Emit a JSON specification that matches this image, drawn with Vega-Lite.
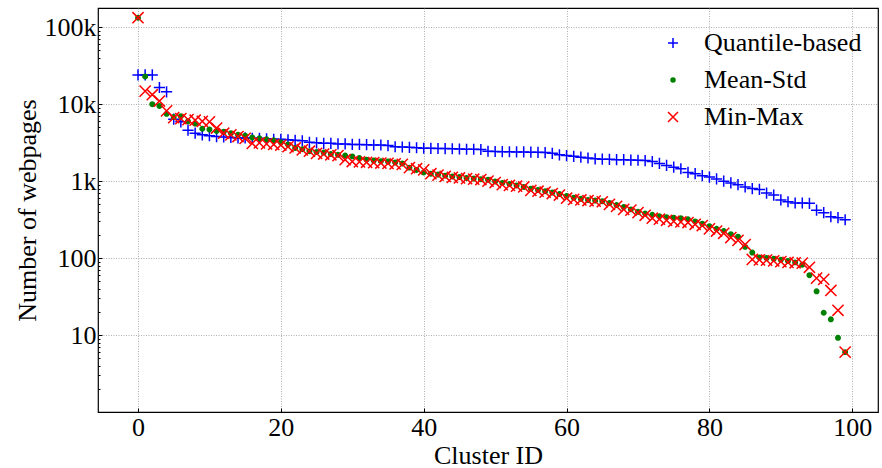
{
  "$schema": "https://vega.github.io/schema/vega-lite/v6.json",
  "width": 780,
  "height": 404,
  "autosize": "none",
  "padding": {"left": 98, "top": 8, "right": 4, "bottom": 56},
  "background": "white",
  "config": {"font": "Liberation Serif", "view": {"stroke": "#000000", "strokeWidth": 1.2}},
  "data": {"values": [
    {"c":0,"m":"Quantile-based","n":24000},{"c":1,"m":"Quantile-based","n":24000},{"c":2,"m":"Quantile-based","n":24000},{"c":3,"m":"Quantile-based","n":16500},{"c":4,"m":"Quantile-based","n":14500},{"c":5,"m":"Quantile-based","n":6400},{"c":6,"m":"Quantile-based","n":5900},{"c":7,"m":"Quantile-based","n":4600},{"c":8,"m":"Quantile-based","n":4200},{"c":9,"m":"Quantile-based","n":4000},
    {"c":10,"m":"Quantile-based","n":3900},{"c":11,"m":"Quantile-based","n":3800},{"c":12,"m":"Quantile-based","n":3750},{"c":13,"m":"Quantile-based","n":3700},{"c":14,"m":"Quantile-based","n":3650},{"c":15,"m":"Quantile-based","n":3650},{"c":16,"m":"Quantile-based","n":3600},{"c":17,"m":"Quantile-based","n":3600},{"c":18,"m":"Quantile-based","n":3550},{"c":19,"m":"Quantile-based","n":3500},
    {"c":20,"m":"Quantile-based","n":3500},{"c":21,"m":"Quantile-based","n":3450},{"c":22,"m":"Quantile-based","n":3400},{"c":23,"m":"Quantile-based","n":3350},{"c":24,"m":"Quantile-based","n":3200},{"c":25,"m":"Quantile-based","n":3150},{"c":26,"m":"Quantile-based","n":3100},{"c":27,"m":"Quantile-based","n":3100},{"c":28,"m":"Quantile-based","n":3050},{"c":29,"m":"Quantile-based","n":3050},
    {"c":30,"m":"Quantile-based","n":3000},{"c":31,"m":"Quantile-based","n":3000},{"c":32,"m":"Quantile-based","n":2980},{"c":33,"m":"Quantile-based","n":2950},{"c":34,"m":"Quantile-based","n":2950},{"c":35,"m":"Quantile-based","n":2900},{"c":36,"m":"Quantile-based","n":2800},{"c":37,"m":"Quantile-based","n":2780},{"c":38,"m":"Quantile-based","n":2750},{"c":39,"m":"Quantile-based","n":2720},
    {"c":40,"m":"Quantile-based","n":2680},{"c":41,"m":"Quantile-based","n":2670},{"c":42,"m":"Quantile-based","n":2660},{"c":43,"m":"Quantile-based","n":2650},{"c":44,"m":"Quantile-based","n":2640},{"c":45,"m":"Quantile-based","n":2620},{"c":46,"m":"Quantile-based","n":2600},{"c":47,"m":"Quantile-based","n":2600},{"c":48,"m":"Quantile-based","n":2580},{"c":49,"m":"Quantile-based","n":2450},
    {"c":50,"m":"Quantile-based","n":2430},{"c":51,"m":"Quantile-based","n":2420},{"c":52,"m":"Quantile-based","n":2410},{"c":53,"m":"Quantile-based","n":2400},{"c":54,"m":"Quantile-based","n":2400},{"c":55,"m":"Quantile-based","n":2380},{"c":56,"m":"Quantile-based","n":2370},{"c":57,"m":"Quantile-based","n":2350},{"c":58,"m":"Quantile-based","n":2300},{"c":59,"m":"Quantile-based","n":2200},
    {"c":60,"m":"Quantile-based","n":2150},{"c":61,"m":"Quantile-based","n":2100},{"c":62,"m":"Quantile-based","n":2050},{"c":63,"m":"Quantile-based","n":2000},{"c":64,"m":"Quantile-based","n":1950},{"c":65,"m":"Quantile-based","n":1930},{"c":66,"m":"Quantile-based","n":1920},{"c":67,"m":"Quantile-based","n":1900},{"c":68,"m":"Quantile-based","n":1900},{"c":69,"m":"Quantile-based","n":1880},
    {"c":70,"m":"Quantile-based","n":1870},{"c":71,"m":"Quantile-based","n":1850},{"c":72,"m":"Quantile-based","n":1800},{"c":73,"m":"Quantile-based","n":1700},{"c":74,"m":"Quantile-based","n":1600},{"c":75,"m":"Quantile-based","n":1520},{"c":76,"m":"Quantile-based","n":1450},{"c":77,"m":"Quantile-based","n":1300},{"c":78,"m":"Quantile-based","n":1250},{"c":79,"m":"Quantile-based","n":1180},
    {"c":80,"m":"Quantile-based","n":1130},{"c":81,"m":"Quantile-based","n":1070},{"c":82,"m":"Quantile-based","n":1000},{"c":83,"m":"Quantile-based","n":950},{"c":84,"m":"Quantile-based","n":900},{"c":85,"m":"Quantile-based","n":840},{"c":86,"m":"Quantile-based","n":800},{"c":87,"m":"Quantile-based","n":780},{"c":88,"m":"Quantile-based","n":700},{"c":89,"m":"Quantile-based","n":660},
    {"c":90,"m":"Quantile-based","n":570},{"c":91,"m":"Quantile-based","n":540},{"c":92,"m":"Quantile-based","n":520},{"c":93,"m":"Quantile-based","n":520},{"c":94,"m":"Quantile-based","n":515},{"c":95,"m":"Quantile-based","n":420},{"c":96,"m":"Quantile-based","n":390},{"c":97,"m":"Quantile-based","n":345},{"c":98,"m":"Quantile-based","n":335},{"c":99,"m":"Quantile-based","n":315},

    {"c":0,"m":"Mean-Std","n":133000},{"c":1,"m":"Mean-Std","n":23000},{"c":2,"m":"Mean-Std","n":10000},{"c":3,"m":"Mean-Std","n":9500},{"c":4,"m":"Mean-Std","n":7500},{"c":5,"m":"Mean-Std","n":6800},{"c":6,"m":"Mean-Std","n":7000},{"c":7,"m":"Mean-Std","n":6000},{"c":8,"m":"Mean-Std","n":5600},{"c":9,"m":"Mean-Std","n":4800},
    {"c":10,"m":"Mean-Std","n":4700},{"c":11,"m":"Mean-Std","n":4500},{"c":12,"m":"Mean-Std","n":4400},{"c":13,"m":"Mean-Std","n":4200},{"c":14,"m":"Mean-Std","n":4000},{"c":15,"m":"Mean-Std","n":3900},{"c":16,"m":"Mean-Std","n":3700},{"c":17,"m":"Mean-Std","n":3600},{"c":18,"m":"Mean-Std","n":3500},{"c":19,"m":"Mean-Std","n":3400},
    {"c":20,"m":"Mean-Std","n":3200},{"c":21,"m":"Mean-Std","n":3000},{"c":22,"m":"Mean-Std","n":2700},{"c":23,"m":"Mean-Std","n":2600},{"c":24,"m":"Mean-Std","n":2450},{"c":25,"m":"Mean-Std","n":2400},{"c":26,"m":"Mean-Std","n":2350},{"c":27,"m":"Mean-Std","n":2250},{"c":28,"m":"Mean-Std","n":2200},{"c":29,"m":"Mean-Std","n":2150},
    {"c":30,"m":"Mean-Std","n":2100},{"c":31,"m":"Mean-Std","n":2000},{"c":32,"m":"Mean-Std","n":1900},{"c":33,"m":"Mean-Std","n":1850},{"c":34,"m":"Mean-Std","n":1820},{"c":35,"m":"Mean-Std","n":1800},{"c":36,"m":"Mean-Std","n":1750},{"c":37,"m":"Mean-Std","n":1700},{"c":38,"m":"Mean-Std","n":1500},{"c":39,"m":"Mean-Std","n":1400},
    {"c":40,"m":"Mean-Std","n":1300},{"c":41,"m":"Mean-Std","n":1250},{"c":42,"m":"Mean-Std","n":1220},{"c":43,"m":"Mean-Std","n":1180},{"c":44,"m":"Mean-Std","n":1150},{"c":45,"m":"Mean-Std","n":1130},{"c":46,"m":"Mean-Std","n":1100},{"c":47,"m":"Mean-Std","n":1080},{"c":48,"m":"Mean-Std","n":1060},{"c":49,"m":"Mean-Std","n":1040},
    {"c":50,"m":"Mean-Std","n":990},{"c":51,"m":"Mean-Std","n":950},{"c":52,"m":"Mean-Std","n":920},{"c":53,"m":"Mean-Std","n":880},{"c":54,"m":"Mean-Std","n":840},{"c":55,"m":"Mean-Std","n":800},{"c":56,"m":"Mean-Std","n":770},{"c":57,"m":"Mean-Std","n":740},{"c":58,"m":"Mean-Std","n":710},{"c":59,"m":"Mean-Std","n":680},
    {"c":60,"m":"Mean-Std","n":640},{"c":61,"m":"Mean-Std","n":610},{"c":62,"m":"Mean-Std","n":590},{"c":63,"m":"Mean-Std","n":570},{"c":64,"m":"Mean-Std","n":560},{"c":65,"m":"Mean-Std","n":550},{"c":66,"m":"Mean-Std","n":520},{"c":67,"m":"Mean-Std","n":490},{"c":68,"m":"Mean-Std","n":460},{"c":69,"m":"Mean-Std","n":430},
    {"c":70,"m":"Mean-Std","n":400},{"c":71,"m":"Mean-Std","n":380},{"c":72,"m":"Mean-Std","n":365},{"c":73,"m":"Mean-Std","n":350},{"c":74,"m":"Mean-Std","n":340},{"c":75,"m":"Mean-Std","n":335},{"c":76,"m":"Mean-Std","n":330},{"c":77,"m":"Mean-Std","n":320},{"c":78,"m":"Mean-Std","n":300},{"c":79,"m":"Mean-Std","n":280},
    {"c":80,"m":"Mean-Std","n":260},{"c":81,"m":"Mean-Std","n":240},{"c":82,"m":"Mean-Std","n":225},{"c":83,"m":"Mean-Std","n":205},{"c":84,"m":"Mean-Std","n":190},{"c":85,"m":"Mean-Std","n":140},{"c":86,"m":"Mean-Std","n":118},{"c":87,"m":"Mean-Std","n":102},{"c":88,"m":"Mean-Std","n":100},{"c":89,"m":"Mean-Std","n":98},
    {"c":90,"m":"Mean-Std","n":95},{"c":91,"m":"Mean-Std","n":92},{"c":92,"m":"Mean-Std","n":88},{"c":93,"m":"Mean-Std","n":82},{"c":94,"m":"Mean-Std","n":60},{"c":95,"m":"Mean-Std","n":37},{"c":96,"m":"Mean-Std","n":19.5},{"c":97,"m":"Mean-Std","n":16},{"c":98,"m":"Mean-Std","n":9.2},{"c":99,"m":"Mean-Std","n":6},

    {"c":0,"m":"Min-Max","n":133000},{"c":1,"m":"Min-Max","n":14800},{"c":2,"m":"Min-Max","n":13300},{"c":3,"m":"Min-Max","n":11000},{"c":4,"m":"Min-Max","n":8200},{"c":5,"m":"Min-Max","n":6700},{"c":6,"m":"Min-Max","n":6500},{"c":7,"m":"Min-Max","n":6300},{"c":8,"m":"Min-Max","n":6200},{"c":9,"m":"Min-Max","n":6000},
    {"c":10,"m":"Min-Max","n":5900},{"c":11,"m":"Min-Max","n":4900},{"c":12,"m":"Min-Max","n":4200},{"c":13,"m":"Min-Max","n":4000},{"c":14,"m":"Min-Max","n":3800},{"c":15,"m":"Min-Max","n":3600},{"c":16,"m":"Min-Max","n":3100},{"c":17,"m":"Min-Max","n":3150},{"c":18,"m":"Min-Max","n":3050},{"c":19,"m":"Min-Max","n":3000},
    {"c":20,"m":"Min-Max","n":2950},{"c":21,"m":"Min-Max","n":2800},{"c":22,"m":"Min-Max","n":2700},{"c":23,"m":"Min-Max","n":2550},{"c":24,"m":"Min-Max","n":2450},{"c":25,"m":"Min-Max","n":2300},{"c":26,"m":"Min-Max","n":2250},{"c":27,"m":"Min-Max","n":2200},{"c":28,"m":"Min-Max","n":2150},{"c":29,"m":"Min-Max","n":1900},
    {"c":30,"m":"Min-Max","n":1800},{"c":31,"m":"Min-Max","n":1780},{"c":32,"m":"Min-Max","n":1760},{"c":33,"m":"Min-Max","n":1740},{"c":34,"m":"Min-Max","n":1720},{"c":35,"m":"Min-Max","n":1700},{"c":36,"m":"Min-Max","n":1680},{"c":37,"m":"Min-Max","n":1650},{"c":38,"m":"Min-Max","n":1500},{"c":39,"m":"Min-Max","n":1450},
    {"c":40,"m":"Min-Max","n":1400},{"c":41,"m":"Min-Max","n":1250},{"c":42,"m":"Min-Max","n":1200},{"c":43,"m":"Min-Max","n":1150},{"c":44,"m":"Min-Max","n":1120},{"c":45,"m":"Min-Max","n":1100},{"c":46,"m":"Min-Max","n":1080},{"c":47,"m":"Min-Max","n":1060},{"c":48,"m":"Min-Max","n":1050},{"c":49,"m":"Min-Max","n":1000},
    {"c":50,"m":"Min-Max","n":960},{"c":51,"m":"Min-Max","n":900},{"c":52,"m":"Min-Max","n":880},{"c":53,"m":"Min-Max","n":860},{"c":54,"m":"Min-Max","n":840},{"c":55,"m":"Min-Max","n":760},{"c":56,"m":"Min-Max","n":740},{"c":57,"m":"Min-Max","n":720},{"c":58,"m":"Min-Max","n":690},{"c":59,"m":"Min-Max","n":660},
    {"c":60,"m":"Min-Max","n":600},{"c":61,"m":"Min-Max","n":580},{"c":62,"m":"Min-Max","n":570},{"c":63,"m":"Min-Max","n":560},{"c":64,"m":"Min-Max","n":550},{"c":65,"m":"Min-Max","n":540},{"c":66,"m":"Min-Max","n":500},{"c":67,"m":"Min-Max","n":470},{"c":68,"m":"Min-Max","n":430},{"c":69,"m":"Min-Max","n":420},
    {"c":70,"m":"Min-Max","n":390},{"c":71,"m":"Min-Max","n":360},{"c":72,"m":"Min-Max","n":330},{"c":73,"m":"Min-Max","n":320},{"c":74,"m":"Min-Max","n":310},{"c":75,"m":"Min-Max","n":300},{"c":76,"m":"Min-Max","n":295},{"c":77,"m":"Min-Max","n":290},{"c":78,"m":"Min-Max","n":275},{"c":79,"m":"Min-Max","n":265},
    {"c":80,"m":"Min-Max","n":240},{"c":81,"m":"Min-Max","n":225},{"c":82,"m":"Min-Max","n":210},{"c":83,"m":"Min-Max","n":185},{"c":84,"m":"Min-Max","n":170},{"c":85,"m":"Min-Max","n":150},{"c":86,"m":"Min-Max","n":96},{"c":87,"m":"Min-Max","n":95},{"c":88,"m":"Min-Max","n":94},{"c":89,"m":"Min-Max","n":92},
    {"c":90,"m":"Min-Max","n":90},{"c":91,"m":"Min-Max","n":88},{"c":92,"m":"Min-Max","n":87},{"c":93,"m":"Min-Max","n":86},{"c":94,"m":"Min-Max","n":76},{"c":95,"m":"Min-Max","n":55},{"c":96,"m":"Min-Max","n":53},{"c":97,"m":"Min-Max","n":38},{"c":98,"m":"Min-Max","n":21},{"c":99,"m":"Min-Max","n":6}
  ]},
  "mark": {"type": "point", "size": 125, "strokeWidth": 1.5, "opacity": 1},
  "encoding": {
    "x": {
      "field": "c", "type": "quantitative",
      "scale": {"domain": [-5.6, 103.6], "nice": false, "zero": false},
      "axis": {
        "title": "Cluster ID", "titleFontSize": 26, "titleFontWeight": "normal", "titleColor": "#000", "titlePadding": 2,
        "values": [0, 20, 40, 60, 80, 100], "labelFontSize": 26, "labelColor": "#000", "labelPadding": 6,
        "tickSize": -4, "tickColor": "#000", "domain": false,
        "grid": true, "gridColor": "#999999", "gridDash": [1, 1.5], "gridWidth": 0.8
      }
    },
    "y": {
      "field": "n", "type": "quantitative",
      "scale": {"type": "log", "domain": [1, 178000], "nice": false},
      "axis": {
        "title": "Number of webpages", "titleFontSize": 26, "titleFontWeight": "normal", "titleColor": "#000", "titlePadding": 4,
        "values": [2,3,4,5,6,7,8,9,10,20,30,40,50,60,70,80,90,100,200,300,400,500,600,700,800,900,1000,2000,3000,4000,5000,6000,7000,8000,9000,10000,20000,30000,40000,50000,60000,70000,80000,90000,100000],
        "labelExpr": "datum.value == 10 ? '10' : datum.value == 100 ? '100' : datum.value == 1000 ? '1k' : datum.value == 10000 ? '10k' : datum.value == 100000 ? '100k' : ''",
        "labelFontSize": 26, "labelColor": "#000", "labelPadding": 6, "labelBaseline": "middle",
        "tickColor": "#000", "domain": false,
        "tickSize": {"condition": {"test": "datum.value == 10 || datum.value == 100 || datum.value == 1000 || datum.value == 10000 || datum.value == 100000", "value": -4}, "value": -2},
        "grid": true, "gridColor": "#999999", "gridDash": [1, 1.5], "gridWidth": 0.8,
        "gridOpacity": {"condition": {"test": "datum.value == 10 || datum.value == 100 || datum.value == 1000 || datum.value == 10000 || datum.value == 100000", "value": 1}, "value": 0}
      }
    },
    "shape": {
      "field": "m", "type": "nominal",
      "scale": {"domain": ["Quantile-based", "Mean-Std", "Min-Max"], "range": ["M-1,0L1,0M0,-1L0,1", "M-0.4,0A0.4,0.4,0,1,0,0.4,0A0.4,0.4,0,1,0,-0.4,0Z", "M-1,-1L1,1M-1,1L1,-1"]},
      "legend": {
        "title": null, "orient": "none", "legendX": 562, "legendY": 22, "padding": 0,
        "labelFontSize": 26, "labelColor": "#000", "labelOffset": 18, "rowPadding": 11,
        "symbolSize": 100, "symbolStrokeWidth": 1.5, "labelLimit": 300
      }
    },
    "stroke": {
      "field": "m", "type": "nominal",
      "scale": {"domain": ["Quantile-based", "Mean-Std", "Min-Max"], "range": ["#0000ff", "#008000", "#ff0000"]}
    },
    "fill": {
      "field": "m", "type": "nominal",
      "scale": {"domain": ["Quantile-based", "Mean-Std", "Min-Max"], "range": ["#0000ff", "#008000", "#ff0000"]}
    }
  }
}
